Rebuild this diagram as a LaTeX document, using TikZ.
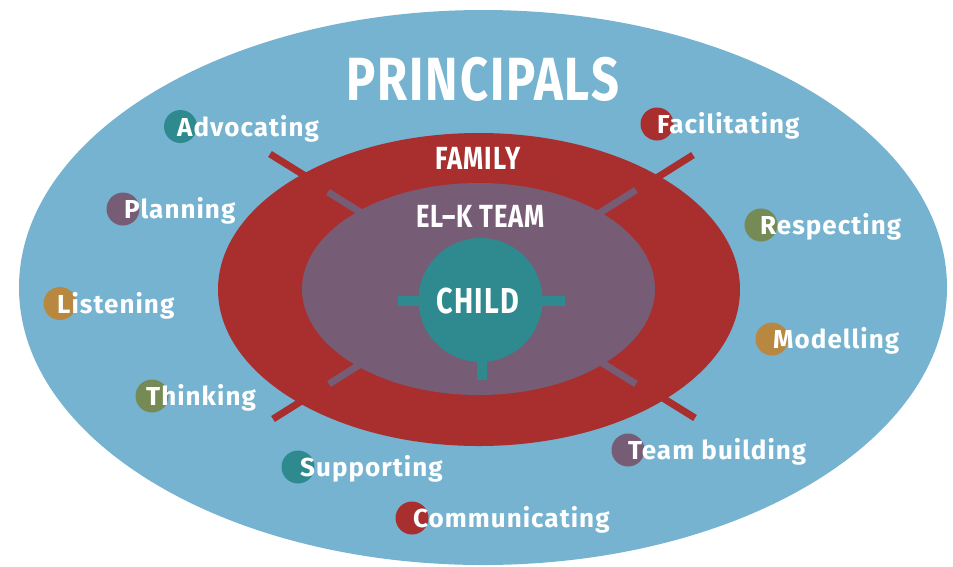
\documentclass[tikz,border=0pt]{standalone}
\usepackage{fontspec}
\setmainfont{Fira Sans}
\newfontfamily\condfont{Fira Sans}[FakeStretch=0.8, LetterSpace=3]
\newfontfamily\lblfont{Fira Sans}[LetterSpace=4]
\definecolor{skyblue}{HTML}{76B3D0}
\definecolor{famred}{HTML}{A92E2E}
\definecolor{teampurple}{HTML}{765C75}
\definecolor{childteal}{HTML}{2E8A8E}
\definecolor{olive}{HTML}{768A55}
\definecolor{ochre}{HTML}{B98840}
\tikzset{
  dot/.style={circle, fill=#1, minimum size=33pt, inner sep=0pt},
  lbl/.style={anchor=base west, inner sep=0pt, text=white, font=\lblfont\fontsize{26}{26}\selectfont\bfseries},
  ttl/.style={anchor=base, inner sep=0pt, text=white},
  spoke/.style={line width=7pt, draw=#1}
}
\begin{document}
\begin{tikzpicture}[x=1pt,y=-1pt]
\useasboundingbox (0,0) rectangle (953,566);
% principals ellipse
\fill[skyblue] (483,287.5) ellipse [x radius=464, y radius=277.5];
% red spokes
\coordinate (rA) at (270,154);
\coordinate (rB) at (695,418);
\coordinate (rC) at (693,155);
\coordinate (rD) at (273,419);
\draw[spoke=famred] (rA) -- (rB);
\draw[spoke=famred] (rC) -- (rD);
\fill[famred] (479,289.5) ellipse [x radius=261, y radius=156.5];
% purple spokes
\coordinate (pA) at (328,192);
\coordinate (pB) at (636,384);
\coordinate (pC) at (636,190);
\coordinate (pD) at (329,384);
\draw[spoke=teampurple] (pA) -- (pB);
\draw[spoke=teampurple] (pC) -- (pD);
\fill[teampurple] (478.5,289) ellipse [x radius=176.5, y radius=106];
% child ticks
\coordinate (tL) at (398,301);
\coordinate (tR) at (565,301);
\coordinate (tT) at (481.5,300);
\coordinate (tB) at (481.5,380);
\draw[line width=10pt, childteal] (tL) -- (tR);
\draw[line width=10pt, childteal] (tT) -- (tB);
\node[circle, fill=childteal, minimum size=124pt, inner sep=0pt] (child) at (480.5,300) {};
% titles
\node[ttl, font=\condfont\fontsize{61}{61}\selectfont\bfseries] (principals) at (483,100) {PRINCIPALS};
\node[ttl, font=\condfont\fontsize{32}{32}\selectfont\bfseries] (family) at (478,169) {FAMILY};
\node[ttl, font=\condfont\fontsize{32}{32}\selectfont\bfseries] (elk) at (480.5,227) {EL–K TEAM};
\node[ttl, font=\condfont\fontsize{36}{36}\selectfont\bfseries] (childlbl) at (478,313) {CHILD};
% dots
\node[dot=childteal] (d1) at (180.5,126.5) {};
\node[dot=teampurple] (d2) at (123,209) {};
\node[dot=ochre] (d3) at (60,303.5) {};
\node[dot=olive] (d4) at (152,396) {};
\node[dot=childteal] (d5) at (298,467) {};
\node[dot=famred] (d6) at (412,518) {};
\node[dot=famred] (d7) at (657,124) {};
\node[dot=olive] (d8) at (761,225) {};
\node[dot=ochre] (d9) at (772,339) {};
\node[dot=teampurple] (d10) at (628,450) {};
% labels
\node[lbl] (l1) at (177,136) {Advocating};
\node[lbl] (l2) at (124,218.5) {Planning};
\node[lbl] (l3) at (57,313) {Listening};
\node[lbl] (l4) at (146,405.5) {Thinking};
\node[lbl] (l5) at (300,476.5) {Supporting};
\node[lbl] (l6) at (413,527.5) {Communicating};
\node[lbl] (l7) at (657,133.5) {Facilitating};
\node[lbl] (l8) at (760,234.5) {Respecting};
\node[lbl] (l9) at (773,348.5) {Modelling};
\node[lbl] (l10) at (628,459.5) {Team building};
\end{tikzpicture}
\end{document}
